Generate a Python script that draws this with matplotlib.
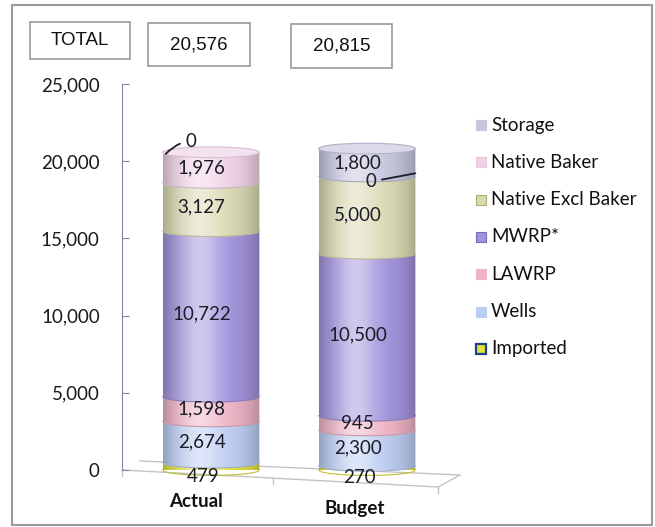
import numpy as np
import matplotlib.pyplot as plt
from matplotlib.patches import Rectangle, Ellipse, PathPatch
from matplotlib.path import Path
from matplotlib.lines import Line2D
from matplotlib.colors import to_rgb

plt.rcParams['font.family'] = ['Lato', 'DejaVu Sans']

# data
categories = ['Actual', 'Budget']
series = ['Imported', 'Wells', 'LAWRP', 'MWRP*', 'Native Excl Baker', 'Native Baker', 'Storage']
imported = [479, 270]
wells = [2674, 2300]
lawrp = [1598, 945]
mwrp = [10722, 10500]
native_excl = [3127, 5000]
native_baker = [1976, 0]
storage = [0, 1800]
totals = ['20,576', '20,815']
yticks = [0, 5000, 10000, 15000, 20000, 25000]

values = [imported, wells, lawrp, mwrp, native_excl, native_baker, storage]
colors = ['#e2e23a', '#bccdf2', '#eeb3c4', '#a293dc', '#d9d9b2', '#efd2e6', '#c6c6de']
legend_edges = ['#1f3f8f', '#bccdf2', '#eeb3c4', '#7a6ab8', '#b0b070', '#e8c8dc', '#c6c6de']

W, H = 655, 527
fig = plt.figure(figsize=(W / 100, H / 100), dpi=100)


def fx(x):
    return x / W


def fy(y):
    return 1 - y / H


ax = fig.add_axes([fx(122), fy(470), fx(460) - fx(122), (470 - 84) / H])

bar_w = 0.62
eh = 700  # ellipse height in data units


def shade(color):
    t = np.linspace(0, 1, 80)
    base = np.array(to_rgb(color))
    light = 0.5 * np.exp(-((t - 0.38) / 0.22) ** 2)
    dark = 0.22 * np.abs(2 * t - 1) ** 3
    rgb = base[None, :] * (1 - dark[:, None])
    rgb = rgb + (1 - rgb) * light[:, None]
    return np.repeat(rgb[None, :, :], 2, axis=0)


def segment(xc, y0, y1, color, z):
    x0, x1 = xc - bar_w / 2, xc + bar_w / 2
    xs = np.linspace(x0, x1, 60)
    arc = y0 - eh / 2 * np.sqrt(np.clip(1 - ((xs - xc) / (bar_w / 2)) ** 2, 0, 1))
    verts = list(zip(xs, arc)) + [(x1, y1), (x0, y1), (x0, arc[0])]
    patch = PathPatch(Path(verts), transform=ax.transData, facecolor='none', edgecolor='none')
    ax.add_patch(patch)
    im = ax.imshow(shade(color), extent=(x0, x1, y0 - eh / 2, y1), aspect='auto',
                   zorder=z, interpolation='bilinear')
    im.set_clip_path(patch)
    # boundary arc (front edge)
    c = np.array(to_rgb(color)) * 0.85
    ax.plot(xs, arc, color=c, lw=0.8, zorder=z + 0.5, clip_on=False)


for i, cat in enumerate(categories):
    bottom = 0
    top_color = None
    for k, vals in enumerate(values):
        v = vals[i]
        if v > 0:
            segment(i, bottom, bottom + v, colors[k], 2 + k)
            top_color = colors[k]
            if k == 0:
                ax.annotate(f'{v:,}', xy=(i - 0.05, bottom + v / 2), xytext=(0, -7),
                            textcoords='offset points', ha='center', va='center',
                            fontsize=13.5, color='#1c1c28', zorder=20, annotation_clip=False)
            else:
                ax.text(i - 0.06, bottom + v / 2, f'{v:,}', ha='center', va='center',
                        fontsize=13.5, color='#1c1c28', zorder=20)
        bottom += v
    # top face
    tc = np.array(to_rgb(top_color))
    ax.add_patch(Ellipse((i, bottom), bar_w, eh, facecolor=tc + (1 - tc) * 0.35,
                         edgecolor=tc * 0.9, lw=0.8, zorder=15))
    ax.annotate(cat, xy=(i, 0), xytext=([-11, -9][i], [-23, -28][i]), textcoords='offset points',
                ha='center', va='center', fontsize=13.5, fontweight='bold',
                color='#111111', annotation_clip=False)

# zero-value labels with leader lines
top_a = sum(v[0] for v in values)
ax.annotate('0', xy=(-bar_w / 2 + 0.02, top_a - 100), xytext=(18, 9), textcoords='offset points',
            ha='center', va='center', fontsize=13.5, color='#1c1c28', zorder=20,
            arrowprops=dict(arrowstyle='-', color='#1c1c28', lw=1.3,
                            connectionstyle='angle3,angleA=0,angleB=45', shrinkA=2, shrinkB=0))
y_nb = sum(v[1] for v in values[:5])
ax.annotate('0', xy=(1 + bar_w / 2, y_nb + 200), xytext=(-32, -6), textcoords='offset points',
            ha='center', va='center', fontsize=13.5, color='#1c1c28', zorder=20,
            arrowprops=dict(arrowstyle='-', color='#1c1c28', lw=1.3, shrinkA=2, shrinkB=0))

ax.set_xlim(-0.5705, 1.596)
ax.set_ylim(0, 25000)
ax.set_yticks(yticks)
ax.set_yticklabels([f'{t:,}' for t in yticks])
ax.set_xticks([])
for s in ['top', 'right', 'bottom']:
    ax.spines[s].set_visible(False)
ax.spines['left'].set_color('#8585a5')
ax.tick_params(axis='y', direction='in', length=5, color='#8585a5', pad=16,
               labelsize=13.5, labelcolor='#1a1a1a')
ax.patch.set_alpha(0)

# floor
floor_c = '#c4c4c4'
for (xa, ya), (xb, yb) in [((122, 470), (438, 487)), ((438, 487), (460, 475)),
                           ((140, 461), (460, 475)), ((122, 470), (122, 476)),
                           ((273, 478), (273, 484)), ((438, 487), (438, 493))]:
    fig.add_artist(Line2D([fx(xa), fx(xb)], [fy(ya), fy(yb)], color=floor_c, lw=1, zorder=0))

# legend
for k, name in enumerate(series[::-1]):
    yc = 125 + k * 37.3
    idx = len(series) - 1 - k
    fig.add_artist(Rectangle((fx(476), fy(yc + 5)), 10 / W, 10 / H, facecolor=colors[idx],
                             edgecolor=legend_edges[idx], lw=1.6 if idx == 0 else 0.8,
                             transform=fig.transFigure))
    fig.text(fx(491), fy(yc), name, ha='left', va='center', fontsize=13.5, color='#111111')

# top boxes
box_font = ['Liberation Sans', 'DejaVu Sans']
for (x0, y0, x1, y1), label in zip([(30, 22, 130, 59), (148, 23, 250, 66), (291, 24, 392, 68)],
                                   ['TOTAL'] + totals):
    fig.add_artist(Rectangle((fx(x0), fy(y1)), (x1 - x0) / W, (y1 - y0) / H, facecolor='white',
                             edgecolor='#9a9a9a', lw=1.2, transform=fig.transFigure))
    fig.text(fx((x0 + x1) / 2), fy((y0 + y1) / 2), label, ha='center', va='center',
             fontsize=13.5, family=box_font, color='#111111')

# outer frame
fig.add_artist(Rectangle((fx(12), fy(525)), (652 - 12) / W, (525 - 5) / H, facecolor='none',
                         edgecolor='#9a9a9a', lw=1.5, transform=fig.transFigure))

fig.savefig('out.png', dpi=100)
